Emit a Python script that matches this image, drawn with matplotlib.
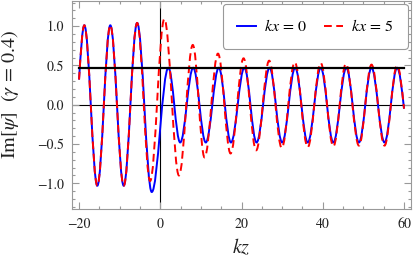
import matplotlib
matplotlib.use('Agg')
import matplotlib.pyplot as plt
from matplotlib.path import Path
from matplotlib.patches import PathPatch
from matplotlib.lines import Line2D
from matplotlib.ticker import MultipleLocator

plt.rcParams['font.family'] = 'STIXGeneral'
plt.rcParams['mathtext.fontset'] = 'stix'

# curve key points: start, every peak/trough, end
blue_x = [-20.0, -18.7, -15.5, -12.3, -9.0, -5.7, -2.1, 2.0, 4.9, 8.1, 11.2, 14.4, 17.4,
          20.7, 23.7, 26.9, 30.0, 33.2, 36.3, 39.5, 42.6, 45.8, 48.9, 52.0, 55.2, 58.3, 60.0]
blue_y = [0.32, 1.01, -1.03, 1.01, -1.03, 1.04, -1.11, 0.47, -0.48, 0.47, -0.48, 0.47, -0.48,
          0.47, -0.48, 0.47, -0.48, 0.47, -0.48, 0.47, -0.48, 0.47, -0.48, 0.47, -0.48, 0.47, -0.05]

red_x = [-20.0, -18.7, -15.5, -12.3, -9.0, -5.7, -2.5, 1.0, 4.6, 8.0, 10.9, 14.2, 17.3,
         20.5, 23.6, 26.8, 29.9, 33.1, 36.3, 39.5, 42.6, 45.7, 48.9, 52.0, 55.2, 58.3, 60.0]
red_y = [0.32, 1.01, -1.03, 1.01, -1.03, 1.04, -0.97, 1.09, -0.90, 0.76, -0.67, 0.65, -0.62,
         0.59, -0.58, 0.56, -0.55, 0.54, -0.54, 0.53, -0.53, 0.52, -0.52, 0.51, -0.52, 0.50, -0.05]

level = 0.47
level_x = [-20.0, 60.0]
x_ticks = [-20, 0, 20, 40, 60]
y_ticks = [-1.0, -0.5, 0.0, 0.5, 1.0]
labels = [r'$kx\,=\,0$', r'$kx\,=\,5$']


def wave_path(xs, ys, k=0.364):
    # cubic pieces with flat tangents at the extrema (close to a cosine)
    verts = [(xs[0], ys[0])]
    codes = [Path.MOVETO]
    n = len(xs)
    for i in range(1, n):
        x0, y0, x1, y1 = xs[i - 1], ys[i - 1], xs[i], ys[i]
        dx = x1 - x0
        if i == 1:
            c1 = (x0 + dx / 3, y0 + (y1 - y0) * 0.5)
        else:
            c1 = (x0 + k * dx, y0)
        if i == n - 1:
            c2 = (x1 - dx / 3, y1 + (y0 - y1) * 0.5)
        else:
            c2 = (x1 - k * dx, y1)
        verts += [c1, c2, (x1, y1)]
        codes += [Path.CURVE4] * 3
    return Path(verts, codes)


fig = plt.figure(figsize=(4.15, 2.68), dpi=100)
ax = fig.add_axes([0.1742, 0.219, 0.8154, 0.779])

ax.axhline(0, color='black', lw=0.8, zorder=1)
ax.axvline(0, color='black', lw=0.8, zorder=1)

ax.add_patch(PathPatch(wave_path(blue_x, blue_y), fill=False, edgecolor='blue', lw=1.4, zorder=3))
ax.add_patch(PathPatch(wave_path(red_x, red_y), fill=False, edgecolor='red', lw=1.4,
                       linestyle=(0, (4, 2.3)), zorder=4))
ax.plot(level_x, [level, level], color='black', lw=1.6, zorder=5)

ax.set_xlim(-21.66, 61.64)
ax.set_ylim(-1.33, 1.325)
ax.set_xticks(x_ticks)
ax.set_yticks(y_ticks)
ax.set_xticklabels([str(t).replace('-', '\u2212') for t in x_ticks])
ax.set_yticklabels([('%.1f' % t).replace('-', '\u2212') for t in y_ticks])
ax.xaxis.set_minor_locator(MultipleLocator(5))
ax.yaxis.set_minor_locator(MultipleLocator(0.1))
ax.tick_params(which='both', direction='in', top=True, right=True, color='#999999',
               labelcolor='#222222', labelsize=10, width=0.8)
ax.tick_params(which='major', length=5, pad=6)
ax.tick_params(which='minor', length=2.5)
for s in ax.spines.values():
    s.set_color('#999999')
    s.set_linewidth(0.8)

ax.set_xlabel(r'$kz$', fontsize=14.5, color='#222222', labelpad=4)
ax.set_ylabel(r'$\mathrm{Im}[\psi]\ \ (\gamma\,=\,0.4)$', fontsize=14.5, color='#222222')
ax.yaxis.set_label_coords(-0.152, 0.553)

handles = [Line2D([], [], color='blue', lw=1.4),
           Line2D([], [], color='red', lw=1.4, linestyle=(0, (4, 2.3)))]
leg = ax.legend(handles, labels, loc='upper right', ncol=2, fontsize=11.5, frameon=True,
                fancybox=True, borderpad=0.9, handlelength=1.2, handletextpad=0.5,
                columnspacing=1.0, bbox_to_anchor=(0.991, 0.984), borderaxespad=0)
leg.get_frame().set_edgecolor('#999999')
leg.get_frame().set_linewidth(0.8)
leg.get_frame().set_alpha(1)

fig.savefig('out.png', dpi=100)
